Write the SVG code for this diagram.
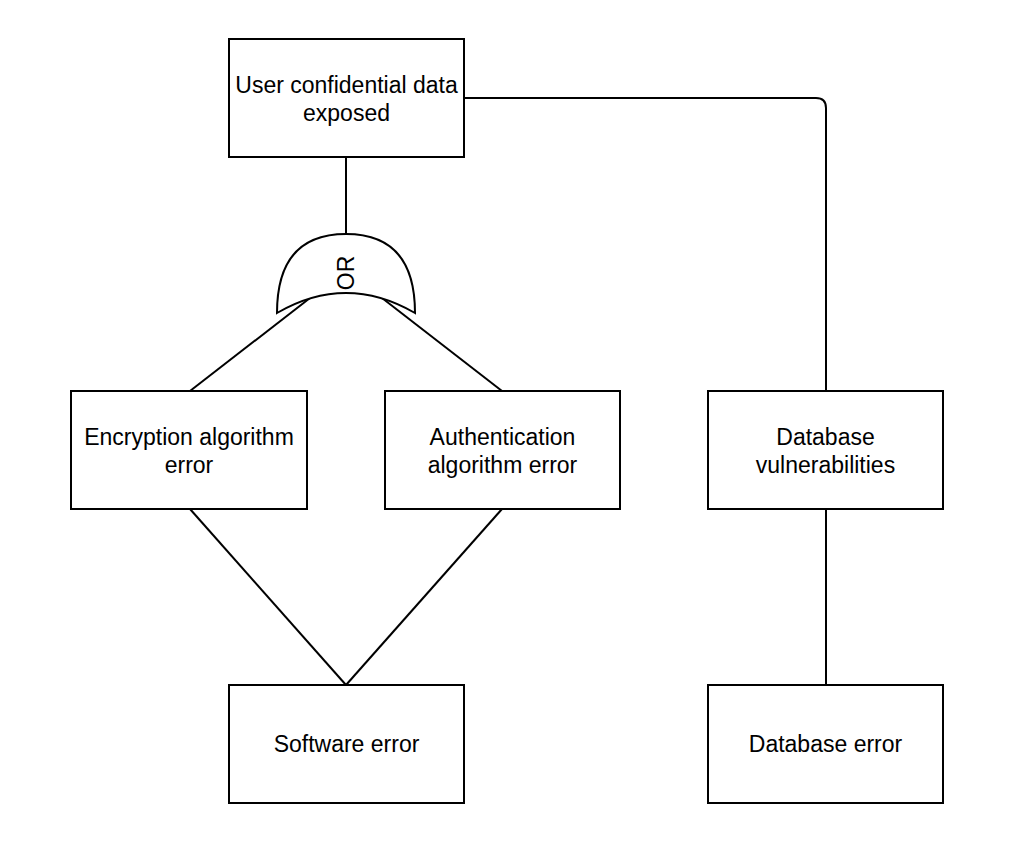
<svg xmlns="http://www.w3.org/2000/svg" width="1014" height="846" viewBox="0 0 1014 846">
<style>
  .box { fill: #ffffff; stroke: #000000; stroke-width: 2; }
  .edge { fill: none; stroke: #000000; stroke-width: 2; }
  .lbl { font-family: "Liberation Sans", Arial, sans-serif; font-size: 23px; fill: #000000; text-anchor: middle; }
</style>
<rect x="0" y="0" width="1014" height="846" fill="#ffffff"/>
<g id="connectors">
  <path class="edge" d="M346,157 L346,234"/>
  <path class="edge" d="M464,98 L816,98 Q826,98 826,108 L826,391"/>
  <path class="edge" d="M310,298 L190,391"/>
  <path class="edge" d="M382,298 L502,391"/>
  <path class="edge" d="M190,509 L346,685"/>
  <path class="edge" d="M502,509 L346,685"/>
  <path class="edge" d="M826,509 L826,685"/>
</g>
<g id="gate-or">
  <path class="box" d="M277,313 Q277,234 346,234 Q415,234 415,313 Q346,273 277,313 Z"/>
  <text class="lbl" font-size="22" transform="translate(346,273) rotate(-90)" y="8">OR</text>
</g>
<g id="node-top">
  <rect class="box" x="229" y="39" width="235" height="118"/>
  <text class="lbl" x="346.5" y="93">User confidential data</text>
  <text class="lbl" x="346.5" y="121">exposed</text>
</g>
<g id="node-encryption">
  <rect class="box" x="71" y="391" width="236" height="118"/>
  <text class="lbl" x="189" y="445">Encryption algorithm</text>
  <text class="lbl" x="189" y="473">error</text>
</g>
<g id="node-authentication">
  <rect class="box" x="385" y="391" width="235" height="118"/>
  <text class="lbl" x="502.5" y="445">Authentication</text>
  <text class="lbl" x="502.5" y="473">algorithm error</text>
</g>
<g id="node-dbvuln">
  <rect class="box" x="708" y="391" width="235" height="118"/>
  <text class="lbl" x="825.5" y="445">Database</text>
  <text class="lbl" x="825.5" y="473">vulnerabilities</text>
</g>
<g id="node-software">
  <rect class="box" x="229" y="685" width="235" height="118"/>
  <text class="lbl" x="346.5" y="752">Software error</text>
</g>
<g id="node-dberror">
  <rect class="box" x="708" y="685" width="235" height="118"/>
  <text class="lbl" x="825.5" y="752">Database error</text>
</g>
</svg>
